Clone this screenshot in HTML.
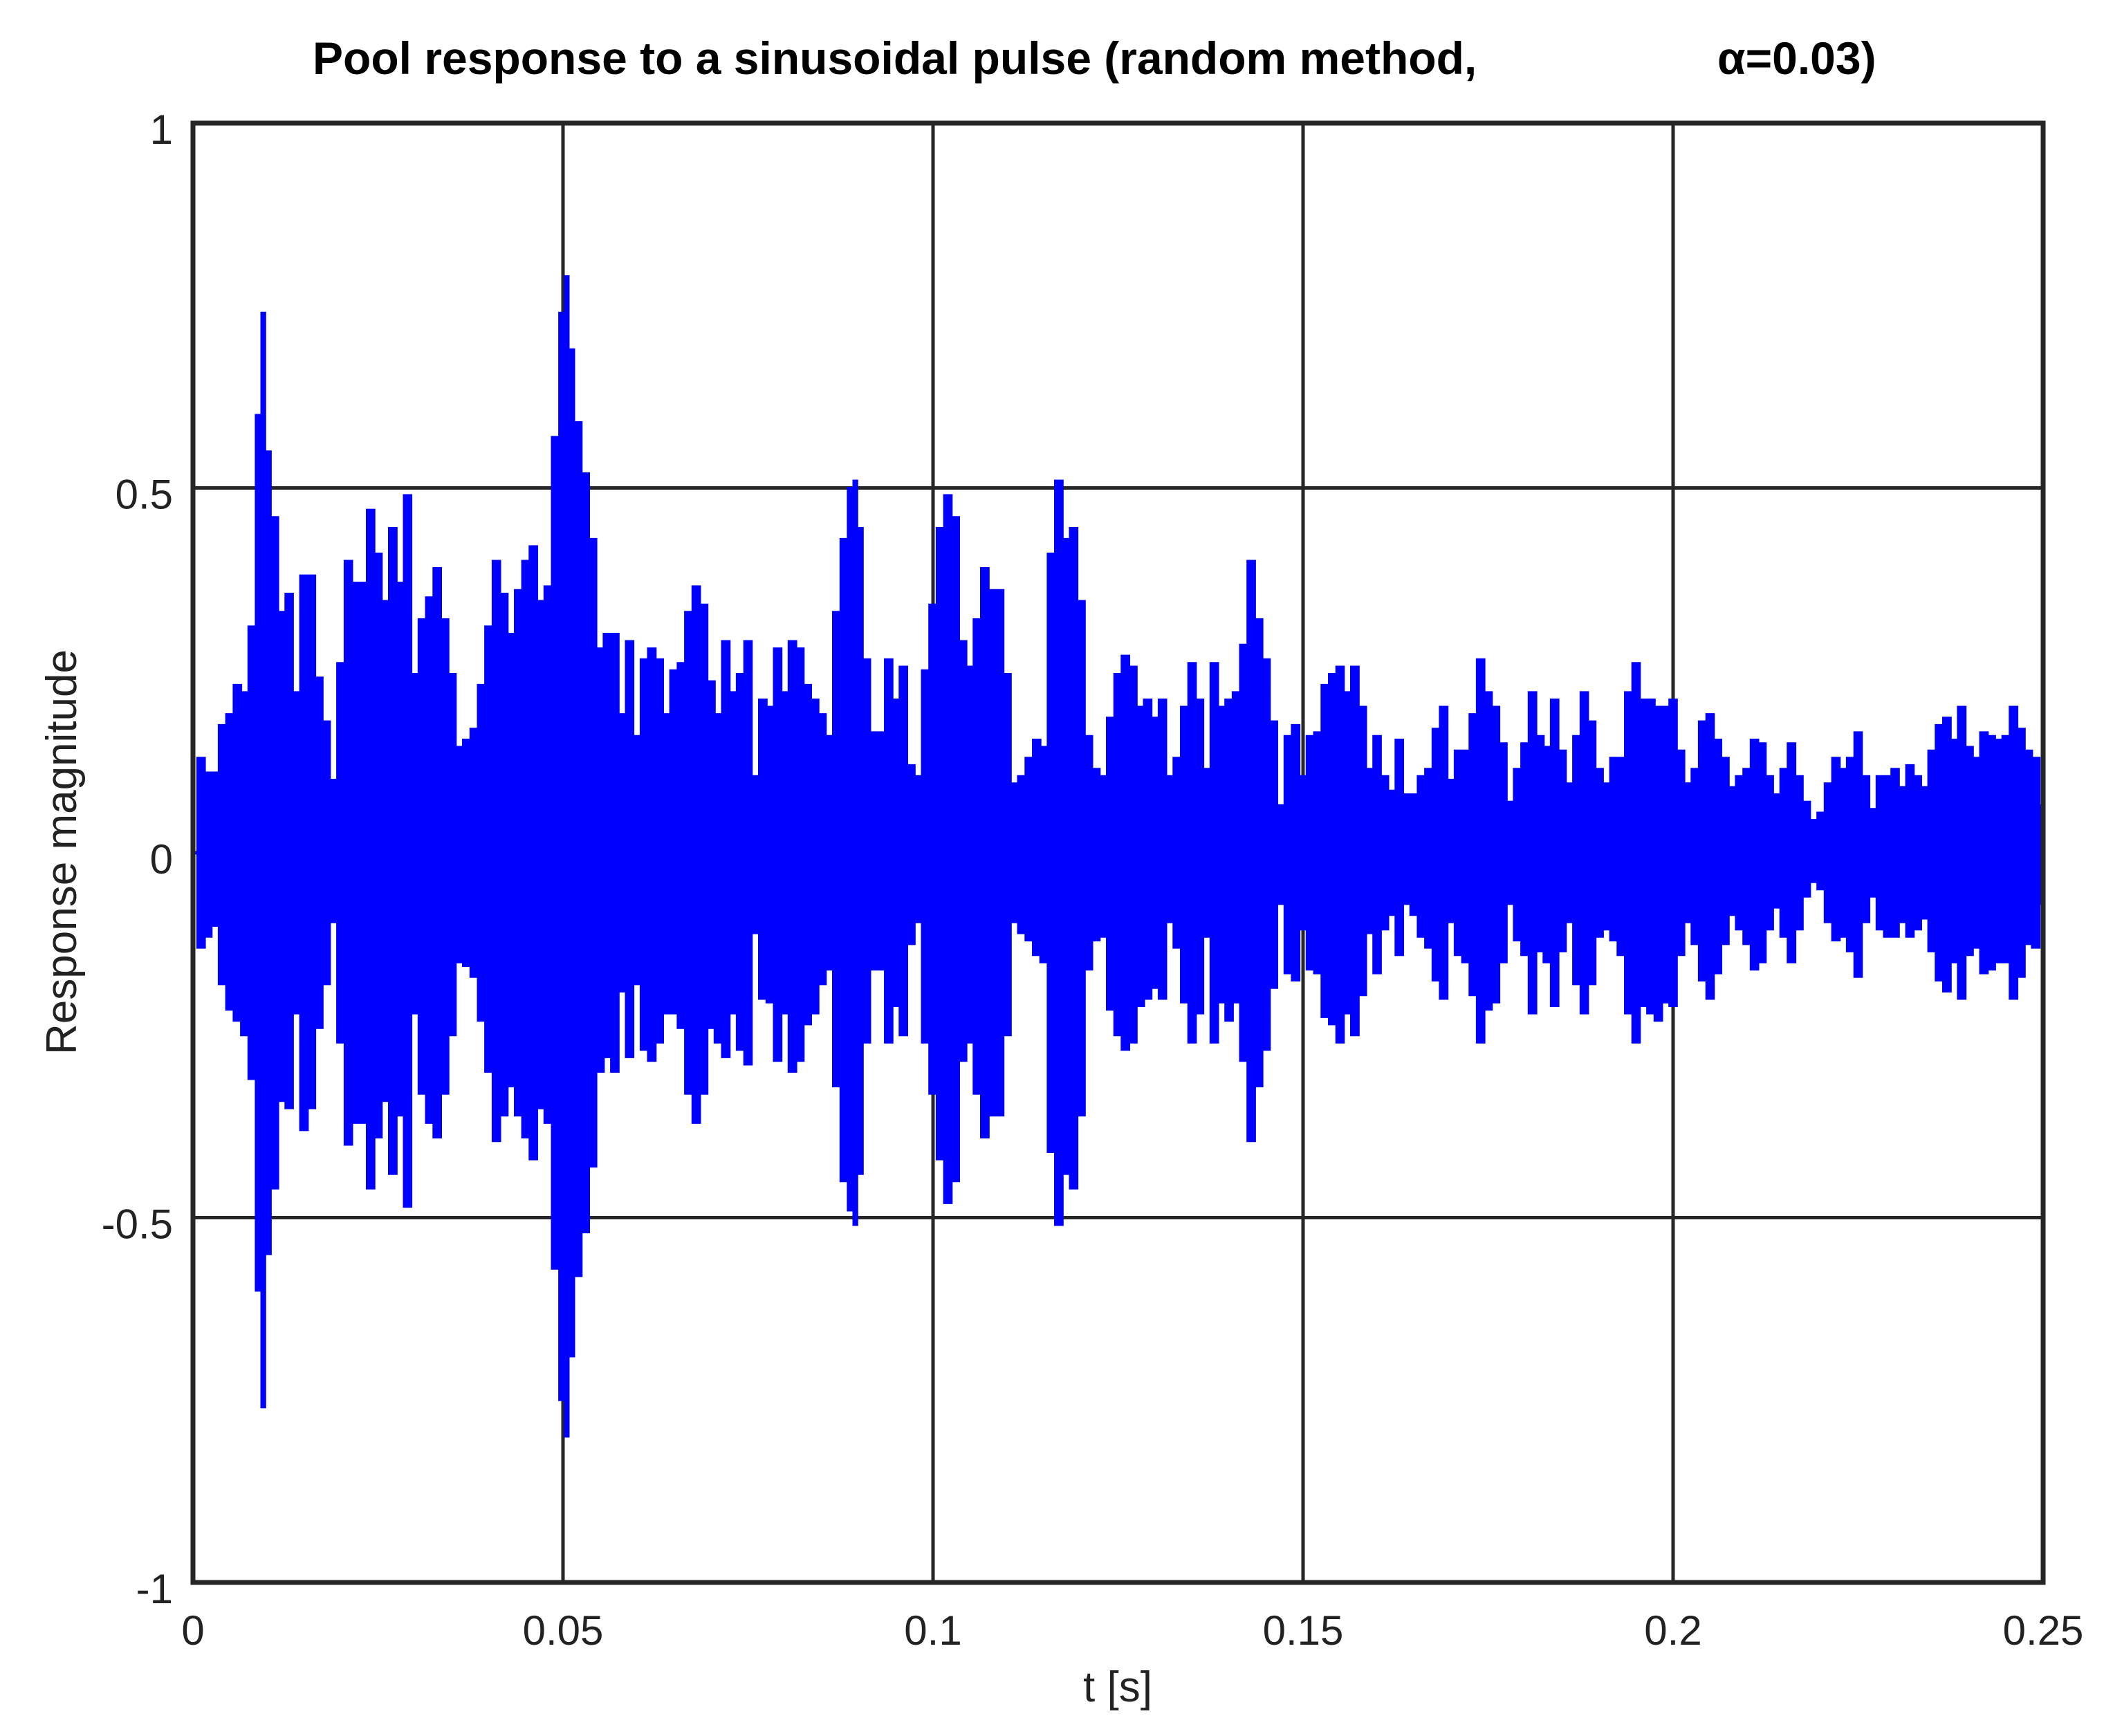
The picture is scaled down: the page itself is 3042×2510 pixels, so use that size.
<!DOCTYPE html>
<html><head><meta charset="utf-8"><style>
html,body{margin:0;padding:0;background:#fff;}
svg{display:block;font-family:"Liberation Sans",Arial,sans-serif;}
</style></head>
<body>
<svg id="chart" width="3042" height="2510" viewBox="0 0 3042 2510" xmlns="http://www.w3.org/2000/svg">
<rect width="3042" height="2510" fill="#fff"/>
<text x="452" y="107" font-size="66" font-weight="bold" fill="#000">Pool response to a sinusoidal pulse (random method,</text>
<text x="2483" y="107" font-size="66" font-weight="bold" fill="#000">α=0.03)</text>
<g id="grid"></g>
<g id="series"></g>
<g id="axes"></g>
<text transform="translate(110,1232) rotate(-90)" text-anchor="middle" font-size="62" fill="#222">Response magnitude</text>
<text x="1616" y="2460" text-anchor="middle" font-size="62" fill="#222">t [s]</text>
</svg>
<script>
const xTicks = [0, 0.05, 0.1, 0.15, 0.2, 0.25];
const xTickLabels = ["0", "0.05", "0.1", "0.15", "0.2", "0.25"];
const yTicks = [1, 0.5, 0, -0.5, -1];
const yTickLabels = ["1", "0.5", "0", "-0.5", "-1"];
// time in ms
const timeMs = [0,1.2,2,3,4,5,6,7,8,9,9.5,10,11,12,13,14,15,16,17,18,19,20,21,22,23,24,25,26,27,28,29,30,31,32,33,34,35,36,37,38,39,40,41,42,43,44,45,46,47,48,49,50,50.5,51,52,53,54,55,56,57,58,59,60,61,62,63,64,65,66,67,68,69,70,71,72,73,74,75,76,77,78,79,80,81,82,83,84,85,86,87,88,89,89.5,90,91,92,93,94,95,96,97,98,99,100,101,102,103,104,105,106,107,108,109,110,111,112,113,114,115,116,117,118,119,120,121,122,123,124,125,126,127,128,129,130,131,132,133,134,135,136,137,138,139,140,141,142,143,144,145,146,147,148,149,150,151,152,153,154,155,156,157,158,159,160,161,162,163,164,165,166,167,168,169,170,171,172,173,174,175,176,177,178,179,180,181,182,183,184,185,186,187,188,189,190,191,192,193,194,195,196,197,198,199,200,201,202,203,204,205,206,207,208,209,210,211,212,213,214,215,216,217,218,219,220,221,222,223,224,225,226,227,228,229,230,231,232,233,234,235,236,237,238,239,240,241,242,243,244,245,246,247,248,249,250];
const upperEnv = [0,0.13,0.11,0.11,0.175,0.19,0.23,0.22,0.31,0.60,0.74,0.55,0.46,0.33,0.355,0.22,0.38,0.38,0.24,0.18,0.10,0.26,0.40,0.37,0.37,0.47,0.41,0.345,0.445,0.37,0.49,0.245,0.32,0.35,0.39,0.32,0.245,0.145,0.155,0.17,0.23,0.31,0.40,0.355,0.30,0.36,0.40,0.42,0.345,0.365,0.57,0.74,0.79,0.69,0.59,0.52,0.43,0.28,0.30,0.30,0.19,0.29,0.16,0.265,0.28,0.265,0.19,0.25,0.26,0.33,0.365,0.34,0.235,0.19,0.29,0.22,0.245,0.29,0.105,0.21,0.20,0.28,0.22,0.29,0.28,0.23,0.21,0.19,0.16,0.33,0.43,0.50,0.51,0.445,0.265,0.165,0.165,0.265,0.21,0.255,0.12,0.105,0.25,0.34,0.445,0.49,0.46,0.29,0.255,0.32,0.39,0.36,0.36,0.245,0.095,0.105,0.13,0.155,0.145,0.41,0.51,0.43,0.445,0.345,0.16,0.115,0.105,0.185,0.245,0.27,0.255,0.20,0.21,0.185,0.21,0.105,0.13,0.20,0.26,0.21,0.115,0.26,0.20,0.21,0.22,0.285,0.40,0.32,0.265,0.18,0.065,0.16,0.175,0.105,0.16,0.165,0.23,0.245,0.255,0.22,0.255,0.20,0.115,0.16,0.105,0.085,0.155,0.08,0.08,0.105,0.115,0.17,0.20,0.10,0.14,0.14,0.19,0.265,0.22,0.20,0.15,0.07,0.115,0.15,0.22,0.16,0.145,0.21,0.14,0.095,0.16,0.22,0.18,0.115,0.095,0.13,0.13,0.22,0.26,0.21,0.21,0.20,0.20,0.21,0.14,0.095,0.115,0.18,0.19,0.155,0.13,0.09,0.105,0.115,0.155,0.15,0.105,0.08,0.115,0.15,0.105,0.07,0.045,0.055,0.095,0.13,0.115,0.13,0.165,0.105,0.06,0.105,0.105,0.115,0.09,0.12,0.105,0.09,0.14,0.175,0.185,0.155,0.20,0.145,0.13,0.165,0.16,0.155,0.16,0.20,0.17,0.14,0.13,0.065];
const lowerEnv = [0,-0.13,-0.115,-0.10,-0.18,-0.215,-0.23,-0.25,-0.31,-0.60,-0.76,-0.55,-0.46,-0.34,-0.35,-0.22,-0.38,-0.35,-0.24,-0.18,-0.095,-0.26,-0.40,-0.37,-0.37,-0.46,-0.39,-0.34,-0.44,-0.36,-0.485,-0.22,-0.33,-0.37,-0.39,-0.33,-0.25,-0.15,-0.155,-0.17,-0.23,-0.30,-0.395,-0.36,-0.32,-0.36,-0.39,-0.42,-0.35,-0.37,-0.57,-0.75,-0.80,-0.69,-0.58,-0.52,-0.43,-0.30,-0.28,-0.30,-0.19,-0.28,-0.18,-0.27,-0.285,-0.26,-0.22,-0.22,-0.24,-0.33,-0.37,-0.33,-0.24,-0.26,-0.28,-0.22,-0.27,-0.29,-0.11,-0.20,-0.205,-0.285,-0.22,-0.30,-0.285,-0.235,-0.22,-0.18,-0.16,-0.32,-0.45,-0.49,-0.51,-0.44,-0.26,-0.16,-0.16,-0.26,-0.21,-0.25,-0.125,-0.095,-0.26,-0.33,-0.42,-0.48,-0.45,-0.285,-0.26,-0.33,-0.39,-0.36,-0.36,-0.25,-0.095,-0.11,-0.12,-0.14,-0.15,-0.41,-0.51,-0.44,-0.46,-0.36,-0.16,-0.12,-0.115,-0.215,-0.25,-0.27,-0.26,-0.21,-0.20,-0.185,-0.20,-0.095,-0.13,-0.205,-0.26,-0.22,-0.115,-0.26,-0.205,-0.23,-0.205,-0.285,-0.395,-0.32,-0.27,-0.185,-0.07,-0.165,-0.175,-0.105,-0.16,-0.165,-0.225,-0.235,-0.26,-0.22,-0.25,-0.195,-0.11,-0.165,-0.105,-0.085,-0.14,-0.07,-0.085,-0.115,-0.13,-0.175,-0.20,-0.095,-0.14,-0.15,-0.195,-0.26,-0.215,-0.205,-0.15,-0.07,-0.12,-0.14,-0.22,-0.135,-0.15,-0.21,-0.135,-0.095,-0.18,-0.22,-0.18,-0.115,-0.105,-0.12,-0.14,-0.22,-0.26,-0.21,-0.22,-0.23,-0.205,-0.21,-0.14,-0.095,-0.125,-0.175,-0.20,-0.165,-0.125,-0.085,-0.105,-0.125,-0.16,-0.15,-0.105,-0.075,-0.115,-0.15,-0.105,-0.06,-0.04,-0.05,-0.095,-0.12,-0.115,-0.135,-0.17,-0.095,-0.06,-0.105,-0.115,-0.115,-0.095,-0.115,-0.105,-0.09,-0.135,-0.175,-0.19,-0.15,-0.20,-0.14,-0.13,-0.165,-0.16,-0.15,-0.15,-0.20,-0.17,-0.125,-0.13,-0.07];

const NS = "http://www.w3.org/2000/svg";
const L = 279, R = 2954, T = 178, B = 2288;
function xScale(t) { return L + (t - 0) / 0.25 * (R - L); }
function yScale(v) { return T + (1 - v) / 2 * (B - T); }

const grid = document.getElementById('grid');
const axes = document.getElementById('axes');
const series = document.getElementById('series');

xTicks.forEach((t, i) => {
  const x = xScale(t);
  const ln = document.createElementNS(NS, 'line');
  
  
  ln.setAttribute('x1', x); ln.setAttribute('x2', x);
  ln.setAttribute('y1', T); ln.setAttribute('y2', B);
  ln.setAttribute('stroke', '#262626'); ln.setAttribute('stroke-width', '5');
  grid.appendChild(ln);
  const tx = document.createElementNS(NS, 'text');
  
  
  tx.setAttribute('x', x); tx.setAttribute('y', 2378);
  tx.setAttribute('text-anchor', 'middle');
  tx.setAttribute('font-size', '60'); tx.setAttribute('fill', '#222');
  tx.textContent = xTickLabels[i];
  axes.appendChild(tx);
});
yTicks.forEach((v, i) => {
  const y = yScale(v);
  const ln = document.createElementNS(NS, 'line');
  
  
  ln.setAttribute('x1', L); ln.setAttribute('x2', R);
  ln.setAttribute('y1', y); ln.setAttribute('y2', y);
  ln.setAttribute('stroke', '#262626'); ln.setAttribute('stroke-width', '5');
  grid.appendChild(ln);
  const tx = document.createElementNS(NS, 'text');
  
  
  tx.setAttribute('x', 250); tx.setAttribute('y', y + 30);
  tx.setAttribute('text-anchor', 'end');
  tx.setAttribute('font-size', '60'); tx.setAttribute('fill', '#222');
  tx.textContent = yTickLabels[i];
  axes.appendChild(tx);
});

// signal envelope fill, drawn as steps
const n = timeMs.length;
function edges(i) {
  const a = i === 0 ? timeMs[0] : (timeMs[i - 1] + timeMs[i]) / 2;
  const b = i === n - 1 ? timeMs[n - 1] : (timeMs[i] + timeMs[i + 1]) / 2;
  return [xScale(a / 1000), xScale(b / 1000)];
}
let pts = [];
for (let i = 0; i < n; i++) {
  const [a, b] = edges(i);
  const y = yScale(upperEnv[i]).toFixed(1);
  pts.push(a.toFixed(1) + ',' + y, b.toFixed(1) + ',' + y);
}
for (let i = n - 1; i >= 0; i--) {
  const [a, b] = edges(i);
  const y = yScale(lowerEnv[i]).toFixed(1);
  pts.push(b.toFixed(1) + ',' + y, a.toFixed(1) + ',' + y);
}
const poly = document.createElementNS(NS, 'polygon');


poly.setAttribute('points', pts.join(' '));
poly.setAttribute('fill', '#0000ff');
poly.setAttribute('stroke', '#0000ff');
poly.setAttribute('stroke-width', '3');
series.appendChild(poly);

const frame = document.createElementNS(NS, 'rect');


frame.setAttribute('x', L); frame.setAttribute('y', T);
frame.setAttribute('width', R - L); frame.setAttribute('height', B - T);
frame.setAttribute('fill', 'none');
frame.setAttribute('stroke', '#262626'); frame.setAttribute('stroke-width', '7');
axes.appendChild(frame);
</script>
</body></html>
